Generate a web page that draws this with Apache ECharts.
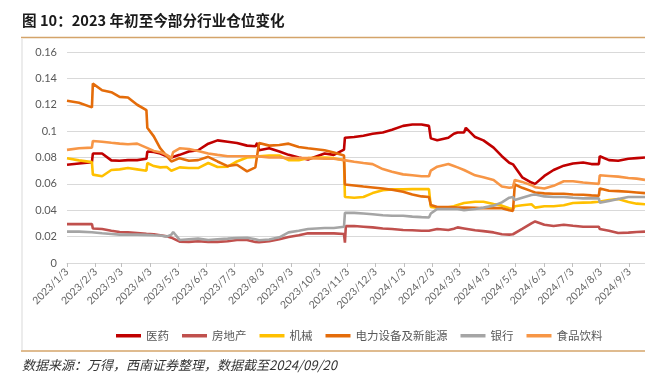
<!DOCTYPE html>
<html>
<head>
<meta charset="utf-8">
<script src="https://cdn.jsdelivr.net/npm/echarts@6/dist/echarts.min.js"></script>
<style>
html,body{margin:0;padding:0;background:#fff;}
#chart{width:645px;height:387px;}
</style>
</head>
<body>
<div id="chart"></div>
<script>
// ---- data ----
const dates = [
'2023-01-03','2023-01-16','2023-01-30','2023-01-31','2023-02-10','2023-02-20','2023-03-01','2023-03-10','2023-03-20','2023-03-30',
'2023-03-31','2023-04-07','2023-04-14','2023-04-21','2023-04-26','2023-04-28','2023-05-05','2023-05-15','2023-05-25','2023-06-05',
'2023-06-15','2023-06-26','2023-07-06','2023-07-17','2023-07-26','2023-07-28','2023-07-30','2023-08-10','2023-08-21','2023-08-31',
'2023-09-11','2023-09-21','2023-10-09','2023-10-19','2023-10-30','2023-10-31','2023-11-01','2023-11-10','2023-11-20','2023-11-30',
'2023-12-11','2023-12-21','2024-01-02','2024-01-12','2024-01-22','2024-01-30','2024-02-01','2024-02-08','2024-02-20','2024-02-26',
'2024-03-01','2024-03-08','2024-03-10','2024-03-20','2024-03-29','2024-04-09','2024-04-18','2024-04-26','2024-04-30','2024-05-02',
'2024-05-10','2024-05-20','2024-05-24','2024-06-03','2024-06-13','2024-06-24','2024-07-04','2024-07-15','2024-07-24','2024-08-01',
'2024-08-02','2024-08-12','2024-08-22','2024-09-02','2024-09-11','2024-09-20'
];

const yiyao = [
0.0745,0.0755,0.0765,0.083,0.083,0.0778,0.0775,0.078,0.078,0.079,
0.0845,0.0842,0.083,0.081,0.080,0.0805,0.082,0.0845,0.0855,0.0905,
0.093,0.092,0.091,0.089,0.0885,0.091,0.0855,0.087,0.0845,0.082,
0.080,0.0785,0.083,0.082,0.086,0.095,0.095,0.0955,0.0965,0.098,
0.099,0.101,0.104,0.105,0.105,0.104,0.0945,0.093,0.095,0.098,
0.099,0.099,0.1025,0.0955,0.093,0.0875,0.081,0.076,0.0748,0.0735,
0.065,0.061,0.060,0.066,0.0705,0.0738,0.0755,0.0762,0.075,0.075,
0.081,0.078,0.0775,0.079,0.0795,0.080
];

const fangdichan = [
0.0295,0.0295,0.0295,0.0262,0.0258,0.0245,0.0235,0.0232,0.0228,0.0222,
0.0222,0.0218,0.021,0.0202,0.0192,0.0185,0.0162,0.016,0.0165,0.016,
0.016,0.0165,0.0175,0.0175,0.016,0.0158,0.0158,0.0165,0.018,0.0197,
0.021,0.0225,0.0225,0.0225,0.022,0.0155,0.028,0.028,0.0275,0.027,
0.0262,0.0258,0.025,0.0248,0.0245,0.0245,0.0248,0.0258,0.025,0.026,
0.027,0.0262,0.026,0.0248,0.0242,0.0232,0.0218,0.0215,0.0218,0.022,
0.0258,0.030,0.0315,0.029,0.028,0.029,0.0282,0.0275,0.0275,0.0275,
0.0258,0.0245,0.0228,0.023,0.0235,0.0238
];

const jixie = [
0.0795,0.0778,0.0765,0.067,0.0658,0.0705,0.071,0.072,0.071,0.070,
0.0758,0.0735,0.0725,0.0728,0.070,0.0695,0.0725,0.072,0.072,0.0758,
0.0728,0.073,0.077,0.080,0.0805,0.081,0.081,0.0815,0.0815,0.078,
0.078,0.0795,0.080,0.0795,0.078,0.050,0.050,0.0495,0.050,0.053,
0.0552,0.0558,0.0558,0.056,0.056,0.056,0.0425,0.042,0.0423,0.043,
0.044,0.0455,0.046,0.0465,0.0465,0.0448,0.0435,0.0415,0.041,0.043,
0.0438,0.0445,0.042,0.043,0.043,0.0438,0.0455,0.0458,0.046,0.0465,
0.047,0.0478,0.0485,0.0462,0.045,0.0445
];

const dianli = [
0.123,0.1215,0.118,0.136,0.131,0.1295,0.126,0.1255,0.120,0.116,
0.1025,0.096,0.087,0.081,0.077,0.078,0.0795,0.0775,0.078,0.0805,
0.077,0.0735,0.0745,0.0695,0.0725,0.0735,0.091,0.089,0.0895,0.0905,
0.088,0.087,0.0855,0.0838,0.0815,0.0595,0.0595,0.0588,0.058,0.0573,
0.0565,0.0555,0.054,0.052,0.0505,0.050,0.044,0.0425,0.0425,0.0422,
0.042,0.042,0.042,0.0418,0.0415,0.0418,0.0415,0.040,0.0395,0.0595,
0.057,0.0545,0.0535,0.0528,0.0525,0.0525,0.052,0.0518,0.0513,0.051,
0.0565,0.0548,0.0545,0.054,0.0535,0.053
];

const yinhang = [
0.0238,0.0238,0.0233,0.0232,0.0225,0.022,0.0215,0.0215,0.0215,0.0213,
0.0212,0.021,0.0208,0.020,0.0215,0.0235,0.0175,0.018,0.0185,0.0175,
0.018,0.0185,0.019,0.0192,0.018,0.0172,0.0172,0.0178,0.0195,0.0232,
0.0245,0.0258,0.0265,0.0265,0.0275,0.038,0.038,0.038,0.0375,0.037,
0.0362,0.0358,0.0358,0.0352,0.0348,0.0345,0.0375,0.041,0.041,0.041,
0.041,0.040,0.0395,0.041,0.042,0.0435,0.046,0.0495,0.050,0.0478,
0.0495,0.0515,0.052,0.0505,0.050,0.050,0.0495,0.049,0.049,0.049,
0.0458,0.047,0.0485,0.050,0.050,0.050
];

const shipin = [
0.0858,0.087,0.0875,0.0925,0.092,0.0912,0.0905,0.090,0.0905,0.0875,
0.087,0.085,0.084,0.082,0.0795,0.084,0.087,0.0865,0.085,0.083,
0.082,0.081,0.081,0.081,0.081,0.081,0.0808,0.080,0.080,0.0795,
0.0795,0.0795,0.079,0.079,0.078,0.078,0.078,0.0768,0.0758,0.075,
0.0712,0.0692,0.0672,0.0665,0.0658,0.0658,0.070,0.073,0.075,0.0735,
0.0725,0.0705,0.070,0.0665,0.065,0.063,0.058,0.057,0.0575,0.063,
0.0615,0.059,0.0575,0.0565,0.0585,0.062,0.062,0.061,0.0605,0.060,
0.0665,0.066,0.0655,0.0645,0.064,0.063
];

const seriesNames = ['医药','房地产','机械','电力设备及新能源','银行','食品饮料'];
const seriesColors = ['#C00000','#C0504D','#FFC000','#E46C0A','#A5A5A5','#F79646'];
const seriesValues = [yiyao, fangdichan, jixie, dianli, yinhang, shipin];

const xTickLabels = ['2023/1/3','2023/2/3','2023/3/3','2023/4/3','2023/5/3','2023/6/3','2023/7/3','2023/8/3','2023/9/3','2023/10/3','2023/11/3','2023/12/3',
'2024/1/3','2024/2/3','2024/3/3','2024/4/3','2024/5/3','2024/6/3','2024/7/3','2024/8/3','2024/9/3'];
const yTickLabels = ['0','0.02','0.04','0.06','0.08','0.1','0.12','0.14','0.16'];

const titleText = '图 10：2023 年初至今部分行业仓位变化';
const sourceText = '数据来源：万得，西南证券整理，数据截至2024/09/20';

// ---- helpers ----
function toTs(s){
  const p = s.split(/[-\/]/).map(Number);
  return Date.UTC(p[0], p[1]-1, p[2]);
}
const xTickTs = xTickLabels.map(toTs);
const tickLabelMap = {};
xTickTs.forEach((t,i)=>{ tickLabelMap[t] = xTickLabels[i]; });

const chart = echarts.init(document.getElementById('chart'), null, {renderer:'canvas'});

const series = seriesNames.map((name,k)=>({
  name: name,
  type: 'line',
  showSymbol: false,
  symbol: 'none',
  data: dates.map((d,i)=>[toTs(d), seriesValues[k][i]]),
  lineStyle: {width: 2.6, color: seriesColors[k]},
  itemStyle: {color: seriesColors[k]},
  emphasis: {disabled: true}
}));

const axisFont = 'Lato, "Liberation Sans", sans-serif';

chart.setOption({
  animation: false,
  backgroundColor: '#fff',
  grid: {left: 67, right: 0, top: 52, bottom: 124, containLabel: false},
  xAxis: {
    type: 'value',
    min: toTs('2023-01-03'),
    max: toTs('2024-09-20'),
    axisLine: {show: true, lineStyle: {color: '#D9D9D9', width: 1}},
    axisTick: {show: true, customValues: xTickTs, length: 4, lineStyle: {color: '#BFBFBF'}},
    splitLine: {show: false},
    axisLabel: {
      customValues: xTickTs,
      rotate: 45,
      margin: 7,
      fontSize: 10.5,
      color: '#666666',
      fontFamily: axisFont,
      hideOverlap: false,
      showMinLabel: true,
      showMaxLabel: true,
      formatter: function(v){ return tickLabelMap[v] !== undefined ? tickLabelMap[v] : ''; }
    }
  },
  yAxis: {
    type: 'value',
    min: 0,
    max: 0.16,
    interval: 0.02,
    axisLine: {show: false},
    axisTick: {show: false},
    splitLine: {show: true, lineStyle: {color: '#D9D9D9', width: 1}},
    axisLabel: {
      margin: 10,
      fontSize: 11,
      color: '#595959',
      fontFamily: axisFont,
      formatter: function(v){ return yTickLabels[Math.round(v/0.02)]; }
    }
  },
  legend: {
    data: seriesNames,
    left: 111,
    top: 325,
    icon: 'rect',
    itemWidth: 25,
    itemHeight: 3.5,
    itemGap: 13,
    textStyle: {fontSize: 11.5, color: '#595959', fontFamily: '"Noto Sans CJK SC", sans-serif'}
  },
  graphic: [
    {type:'text', left: 22, top: 13, style:{text: titleText, font: 'bold 14.6px "Noto Sans CJK SC", sans-serif', fill:'#1a1a1a'}},
    {type:'line', shape:{x1:21, y1:37.5, x2:645, y2:37.5}, style:{stroke:'#D4A46A', lineWidth:1.5}},
    {type:'line', shape:{x1:22, y1:39, x2:22, y2:350}, style:{stroke:'#D9D9D9', lineWidth:1}},
    {type:'line', shape:{x1:21, y1:351, x2:645, y2:351}, style:{stroke:'#D4A46A', lineWidth:1.5}},
    {type:'text', left: 22, top: 359, style:{text: sourceText, font: 'italic 13px "Noto Sans CJK SC", sans-serif', fill:'#333333'}}
  ],
  series: series
});
</script>
</body>
</html>
